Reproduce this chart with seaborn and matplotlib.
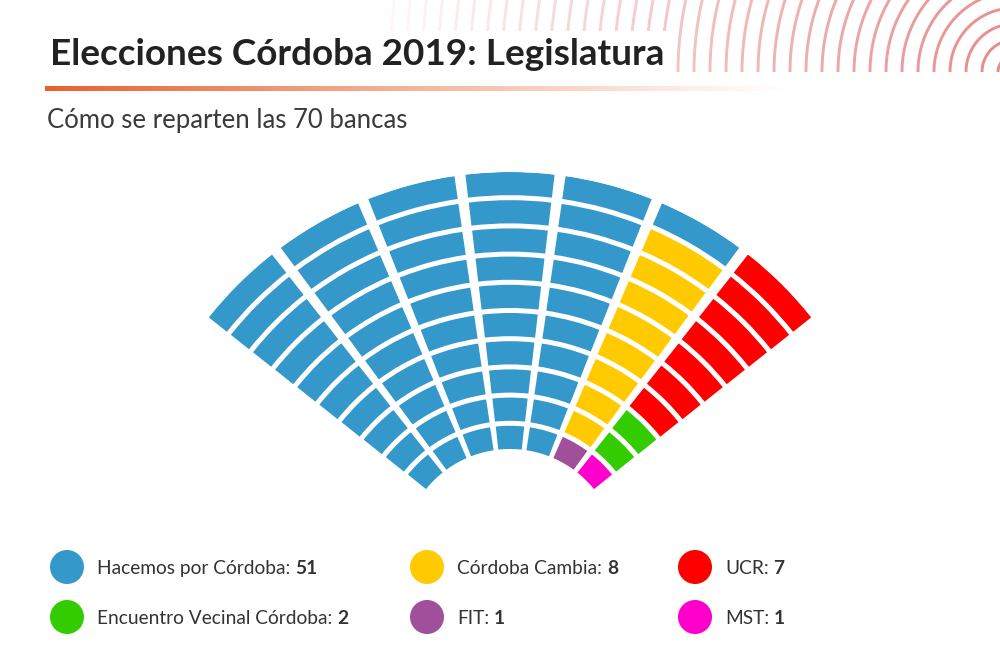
import numpy as np
import pandas as pd
import matplotlib
matplotlib.use("Agg")
import matplotlib.pyplot as plt
import seaborn as sns

# Datos: bancas por partido (Legislatura de Córdoba 2019)
partidos = ["Hacemos por Córdoba", "Córdoba Cambia", "UCR",
            "Encuentro Vecinal Córdoba", "FIT", "MST"]
bancas = [51, 8, 7, 2, 1, 1]
colores = ["#3598CB", "#FFCB00", "#FF0000", "#33CC00", "#A0509A", "#FF00CC"]

# orden en que se llenan los asientos: columna por columna, de afuera hacia adentro
orden_relleno = ["Hacemos por Córdoba", "Córdoba Cambia", "FIT", "UCR",
                 "Encuentro Vecinal Córdoba", "MST"]

n_columnas = 7
n_filas = 10

titulo = "Elecciones Córdoba 2019: Legislatura"
subtitulo = "Cómo se reparten las 70 bancas"

sns.set_theme(style="white")
plt.rcParams["font.family"] = ["Lato", "DejaVu Sans"]

paleta = dict(zip(partidos, colores))
n_bancas = dict(zip(partidos, bancas))

# lista de asientos
asientos = []
for p in orden_relleno:
    asientos += [p] * n_bancas[p]
df = pd.DataFrame({"partido": asientos})
df["columna"] = df.index // n_filas
df["fila"] = n_filas - 1 - df.index % n_filas

fig = plt.figure(figsize=(10, 6.67), dpi=100)

# ---- fondo: ejes en píxeles para textos, decoración y leyenda
bg = fig.add_axes([0, 0, 1, 1])

# arcos decorativos arriba a la derecha
cx, cy = 1014, 72
ang = np.linspace(np.pi / 2, np.pi, 200)
for k in range(1, 40):
    r = 16 * k
    alfa = max(0.06, 0.8 * (1 - r / 660))
    bg.plot(cx + r * np.cos(ang), cy - r * np.sin(ang), color="#E06A6A",
            lw=2.1, alpha=alfa, zorder=1, solid_capstyle="butt")

# título con fondo blanco (tapa los arcos)
bg.text(50, 65, titulo, fontsize=26.6, fontweight="bold", color="#222222",
        va="baseline", ha="left", zorder=5,
        bbox=dict(facecolor="white", edgecolor="none", pad=5))

# línea degradada bajo el título
grad = np.zeros((1, 400, 4))
grad[..., 0] = 232 / 255
grad[..., 1] = 96 / 255
grad[..., 2] = 44 / 255
grad[..., 3] = np.linspace(1, 0, 400) ** 1.1
bg.imshow(grad, extent=(45, 790, 91, 86), aspect="auto", zorder=4,
          interpolation="bilinear")

bg.text(47, 128, subtitulo, fontsize=18.5, fontweight="normal", color="#3a3a3a",
        va="baseline", ha="left", zorder=5)

# leyenda
col_x = [67, 427, 695]
fila_y = [567, 617]
ley = pd.DataFrame({
    "partido": partidos,
    "x": [col_x[i % 3] for i in range(len(partidos))],
    "y": [fila_y[i // 3] for i in range(len(partidos))],
})
sns.scatterplot(data=ley, x="x", y="y", hue="partido", palette=paleta,
                s=600, linewidth=0, legend=False, ax=bg, zorder=6)
bg.set_xlim(0, 1000)
bg.set_ylim(667, 0)
bg.set_axis_off()

renderer = fig.canvas.get_renderer()
for _, fila in ley.iterrows():
    t = bg.text(fila["x"] + 30, fila["y"] + 7, fila["partido"] + ":",
                fontsize=13.8, color="#333333", va="baseline", ha="left")
    bb = t.get_window_extent(renderer)
    x_fin = bg.transData.inverted().transform((bb.x1, bb.y0))[0]
    bg.text(x_fin + 5, fila["y"] + 7, str(n_bancas[fila["partido"]]),
            fontsize=13.8, fontweight="bold", color="#333333",
            va="baseline", ha="left")

# ---- hemiciclo en ejes polares
R = 385
centro_x, centro_y = 510, 667 - 557
ax = fig.add_axes([(centro_x - R) / 1000, (centro_y - R) / 667,
                   2 * R / 1000, 2 * R / 667], projection="polar")
ax.patch.set_alpha(0)
ax.set_ylim(0, R)
ax.set_axis_off()

r0, paso_r, hueco_r = 108, 28.2, 5
paso_t = np.deg2rad(14.95)
alto = paso_r - hueco_r
base = r0 + df["fila"] * paso_r
r_medio = base + alto / 2
hueco_t = (2.66 + 0.0217 * r_medio) / r_medio
theta = np.pi / 2 + ((n_columnas - 1) / 2 - df["columna"]) * paso_t
ax.bar(theta, alto, width=paso_t - hueco_t, bottom=base,
       color=df["partido"].map(paleta), linewidth=0)

fig.savefig("out.png", dpi=100)
